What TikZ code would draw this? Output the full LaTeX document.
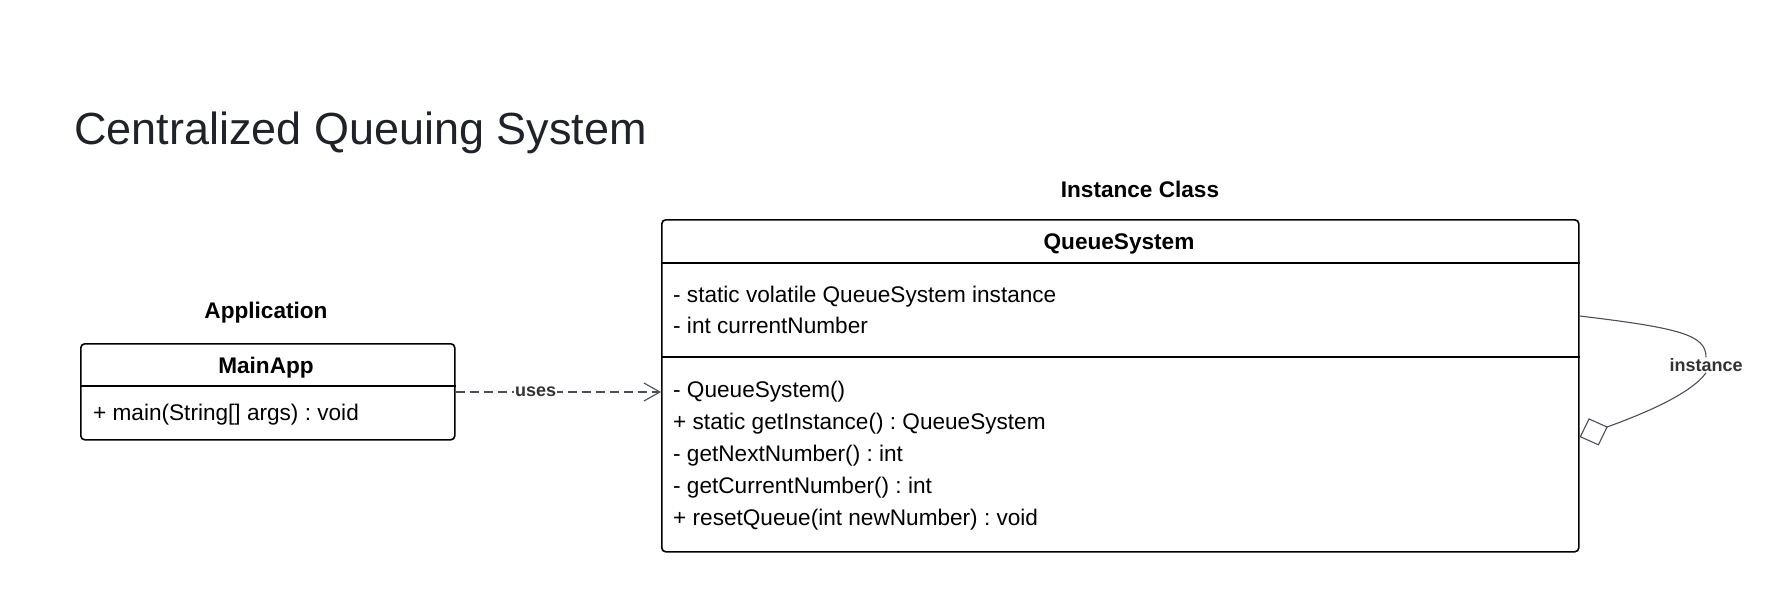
\documentclass[tikz,border=0pt]{standalone}
\usepackage{fontspec}
\setmainfont{Liberation Sans}
\usetikzlibrary{arrows.meta}
\definecolor{titlec}{HTML}{1F2329}
\definecolor{linkc}{HTML}{4A4F57}
\definecolor{lblc}{HTML}{333333}
\frenchspacing
\begin{document}
\begin{tikzpicture}[x=1pt,y=-1pt,
  box/.style={draw=black, line width=1.6pt, rounded corners=4pt, fill=white, inner sep=0pt},
  member/.style={anchor=west, inner sep=0pt, font=\fontsize{22.6}{26}\selectfont, text height=16pt, text depth=4pt},
  headtxt/.style={inner sep=0pt, font=\bfseries\fontsize{22.6}{26}\selectfont, text height=16pt, text depth=4pt},
  sep/.style={line width=1.6pt, black},
  link/.style={draw=linkc, line width=1.1pt},
  linklbl/.style={inner sep=1pt, fill=white, text=lblc, font=\bfseries\fontsize{18}{21}\selectfont}
]
\useasboundingbox (0,0) rectangle (1782,591);
% title
\node[anchor=west, inner sep=0pt, text=titlec, font=\fontsize{45}{52}\selectfont, text height=32pt, text depth=0pt] (title) at (74,129) {Centralized Queuing System};

% MainApp
\node[headtxt] (applbl) at (266,312) {Application};
\node[box, anchor=north west, minimum width=374pt, minimum height=96pt] (main) at (80,343) {};
\node[headtxt] (mainname) at (266,367) {MainApp};
\draw[sep] (main.west |- 0,386) -- (main.east |- 0,386);
\node[member] (mainm) at (93,414) {+ main(String[] args) : void};

% QueueSystem
\node[headtxt] (instlbl) at (1140,191) {Instance Class};
\node[box, anchor=north west, minimum width=917pt, minimum height=332pt] (qs) at (661,219) {};
\node[headtxt] (qsname) at (1119,243) {QueueSystem};
\draw[sep] (qs.west |- 0,263) -- (qs.east |- 0,263);
\draw[sep] (qs.west |- 0,357) -- (qs.east |- 0,357);
\node[member] (a1) at (673,296) {- static volatile QueueSystem instance};
\node[member] (a2) at (673,327) {- int currentNumber};
\node[member] (m1) at (673,391) {- QueueSystem()};
\node[member] (m2) at (673,423) {+ static getInstance() : QueueSystem};
\node[member] (m3) at (673,455) {- getNextNumber() : int};
\node[member] (m4) at (673,487) {- getCurrentNumber() : int};
\node[member] (m5) at (673,519) {+ resetQueue(int newNumber) : void};

% uses dependency
\coordinate (usesA) at (main.east |- 0,392);
\coordinate (usesB) at (qs.west |- 0,392);
\draw[link, dash pattern=on 9pt off 5pt, -{Straight Barb[length=16pt,width=18pt,line width=1.1pt]}] (usesA) -- (usesB)
  node[linklbl, pos=0.39] {uses};

% self association
\coordinate (selfA) at (qs.east |- 0,316);
\coordinate (selfD) at (qs.east |- 0,437);
\node[linklbl] (selflbl) at (1706,365) {instance};
\draw[link] (selfA) .. controls (1680,328) and (1706,335) .. (selflbl.north);
\draw[link, -{Diamond[open,length=30pt,width=29pt,line width=1.1pt]}] (selflbl.south) .. controls (1690,395) and (1640,415) .. (selfD);
\end{tikzpicture}
\end{document}
